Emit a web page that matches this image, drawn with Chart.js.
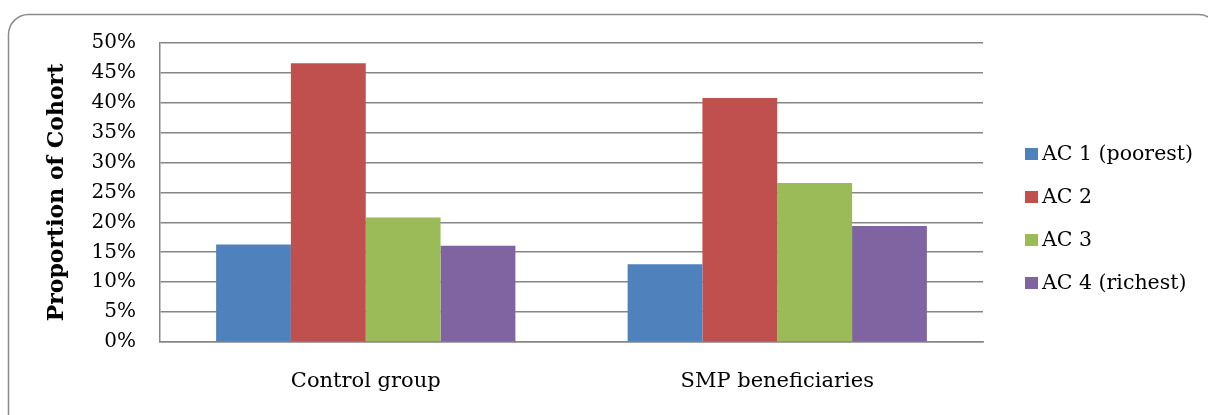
<!DOCTYPE html>
<html>
<head>
<meta charset="utf-8">
<script src="https://cdn.jsdelivr.net/npm/chart.js@4"></script>
<style>
  html, body { margin: 0; padding: 0; background: #fff; }
  #chart { display: block; }
</style>
</head>
<body>
<canvas id="chart" width="1208" height="415"></canvas>
<script>
const categories = ['Control group', 'SMP beneficiaries'];
const seriesNames = ['AC 1 (poorest)', 'AC 2', 'AC 3', 'AC 4 (richest)'];
const seriesColors = ['#4F81BD', '#C0504D', '#9BBB59', '#8064A2'];
// percent of cohort, per series: [control, SMP]
const ac1 = [16.3, 13.0];
const ac2 = [46.6, 40.8];
const ac3 = [20.8, 26.6];
const ac4 = [16.1, 19.4];
const yTicks = [0, 5, 10, 15, 20, 25, 30, 35, 40, 45, 50];

const FONT = '"DejaVu Serif", Georgia, serif';

// rounded frame around the whole chart
const framePlugin = {
  id: 'frame',
  beforeDraw(chart) {
    const ctx = chart.ctx;
    ctx.save();
    ctx.fillStyle = '#fff';
    ctx.fillRect(0, 0, chart.width, chart.height);
    ctx.beginPath();
    ctx.roundRect(8.5, 14.5, 1210, 430, 20);
    ctx.strokeStyle = '#8c8c8c';
    ctx.lineWidth = 1.5;
    ctx.stroke();
    ctx.restore();
  }
};

// legend on the right, drawn from the datasets
const sideLegend = {
  id: 'sideLegend',
  afterDraw(chart) {
    const ctx = chart.ctx;
    ctx.save();
    ctx.font = '20.5px ' + FONT;
    ctx.textBaseline = 'middle';
    ctx.textAlign = 'left';
    chart.data.datasets.forEach((ds, i) => {
      const y = 154 + i * 43;
      ctx.fillStyle = ds.backgroundColor;
      ctx.fillRect(1025, y - 6, 13, 12);
      ctx.fillStyle = '#000';
      ctx.fillText(ds.label, 1042, y + 1);
    });
    ctx.restore();
  }
};

const values = [ac1, ac2, ac3, ac4];

new Chart(document.getElementById('chart').getContext('2d'), {
  type: 'bar',
  data: {
    labels: categories,
    datasets: seriesNames.map((name, i) => ({
      label: name,
      data: values[i],
      backgroundColor: seriesColors[i],
      borderWidth: 0,
      categoryPercentage: 4 / 5.5,
      barPercentage: 1
    }))
  },
  options: {
    responsive: false,
    animation: false,
    layout: { padding: { top: 43, right: 225, left: 0, bottom: 0 } },
    plugins: {
      legend: { display: false },
      tooltip: { enabled: false }
    },
    scales: {
      x: {
        grid: { display: false },
        border: { display: true, color: '#858585', width: 1.5 },
        ticks: { color: '#000', font: { family: FONT, size: 21 }, padding: 19 },
        afterFit: s => { s.height = 73; }
      },
      y: {
        min: 0,
        max: 50,
        afterBuildTicks: s => { s.ticks = yTicks.map(v => ({ value: v })); },
        grid: { color: '#858585', lineWidth: 1.6, drawTicks: false },
        border: { display: true, color: '#858585', width: 1.5 },
        ticks: {
          color: '#000',
          font: { family: FONT, size: 20 },
          padding: 24,
          callback: v => v + '%'
        },
        title: {
          display: true,
          text: 'Proportion of Cohort',
          color: '#000',
          font: { family: FONT, size: 22, weight: 'bold' },
          padding: { top: 44, bottom: 0 }
        },
        afterFit: s => { s.width = 160; }
      }
    }
  },
  plugins: [framePlugin, sideLegend]
});
</script>
</body>
</html>
